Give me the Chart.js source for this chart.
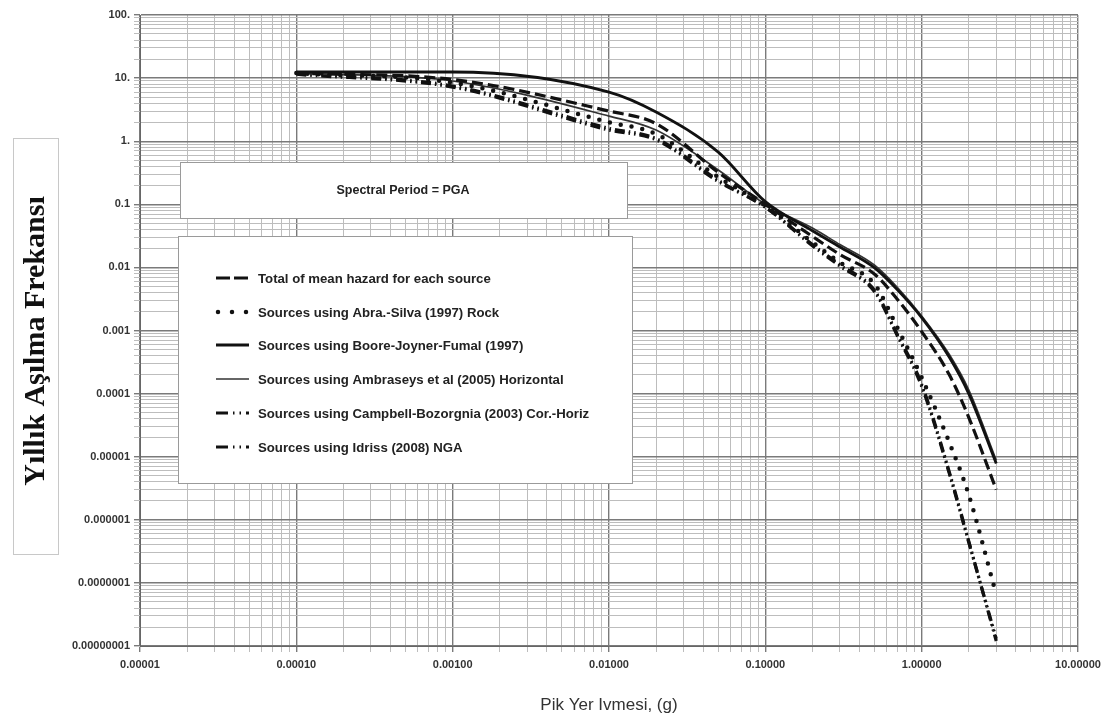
<!DOCTYPE html>
<html>
<head>
<meta charset="utf-8">
<script src="https://cdn.jsdelivr.net/npm/chart.js@4/dist/chart.umd.min.js"></script>
<style>
html,body{margin:0;padding:0;background:#fff;}
#wrap{width:1119px;height:720px;position:relative;}
</style>
</head>
<body>
<div id="wrap"><canvas id="c" width="1119" height="720"></canvas></div>
<script>
// ---- data ----
const pga = [0.0001, 0.001, 0.01, 0.02, 0.05, 0.1, 0.2, 0.3, 0.5, 0.7, 1, 1.5, 2, 3];
const totalMean   = [12, 9.5, 3.0, 1.9, 0.32, 0.1, 0.031, 0.016, 0.0078, 0.0031, 9.6e-4, 2.0e-4, 4.2e-5, 3.0e-6];
const abraSilva   = [12, 8.5, 2.0, 1.3, 0.27, 0.095, 0.025, 0.012, 0.0054, 0.0011, 1.8e-4, 1.7e-5, 2.5e-6, 6.5e-8];
const booreJF     = [12.5, 12.5, 6.0, 2.9, 0.67, 0.11, 0.038, 0.021, 0.0098, 0.0044, 0.0016, 3.8e-4, 1.0e-4, 7.8e-6];
const ambraseys   = [12, 9.0, 2.5, 1.5, 0.35, 0.1, 0.042, 0.023, 0.0108, 0.0048, 0.0017, 4.2e-4, 1.15e-4, 8.8e-6];
const campbellBoz = [12, 7.5, 1.6, 1.1, 0.24, 0.09, 0.023, 0.011, 0.0043, 8.6e-4, 1.4e-4, 5.8e-6, 4.6e-7, 1.2e-8];
const idriss      = [11.5, 7.2, 1.5, 1.05, 0.23, 0.09, 0.022, 0.0105, 0.0041, 8.2e-4, 1.3e-4, 5.5e-6, 4.4e-7, 1.3e-8];

const seriesLabels = [
  "Total of mean hazard for each source",
  "Sources using Abra.-Silva (1997) Rock",
  "Sources using Boore-Joyner-Fumal (1997)",
  "Sources using Ambraseys et al (2005) Horizontal",
  "Sources using Campbell-Bozorgnia (2003) Cor.-Horiz",
  "Sources using Idriss (2008) NGA"
];
const xTickLabels = ["0.00001","0.00010","0.00100","0.01000","0.10000","1.00000","10.00000"];
const yTickLabels = ["0.00000001","0.0000001","0.000001","0.00001","0.0001","0.001","0.01","0.1","1.","10.","100."];
const xExpMin = -5, xExpMax = 1;
const yExpMin = -8, yExpMax = 2;
const yTitle = "Yıllık Aşılma Frekansı";
const xTitle = "Pik Yer Ivmesi, (g)";
const boxTitle = "Spectral Period = PGA";

// ---- helpers ----
function pts(ys){ return pga.map((x,i)=>({x:x, y:ys[i]})); }
function logTicks(e0,e1){
  const t=[];
  for(let e=e0;e<e1;e++){ for(let s=1;s<10;s++){ t.push({value:Number(s+"e"+e)}); } }
  t.push({value:Number("1e"+e1)});
  return t;
}
function expOf(v){ const l=Math.log10(v); const r=Math.round(l); return Math.abs(l-r)<1e-9 ? r : null; }

const ink = "#111";
const datasets = [
  {label:seriesLabels[0], data:pts(totalMean), borderColor:ink, borderWidth:3.2, borderDash:[11,5], borderCapStyle:'butt'},
  {label:seriesLabels[1], data:pts(abraSilva), borderColor:ink, borderWidth:4.5, borderDash:[0,11], borderCapStyle:'round'},
  {label:seriesLabels[2], data:pts(booreJF), borderColor:ink, borderWidth:2.8, borderDash:[]},
  {label:seriesLabels[3], data:pts(ambraseys), borderColor:"#333", borderWidth:1.7, borderDash:[]},
  {label:seriesLabels[4], data:pts(campbellBoz), borderColor:ink, borderWidth:3.2, borderDash:[10,4,1.5,4,1.5,4], borderCapStyle:'butt'},
  {label:seriesLabels[5], data:pts(idriss), borderColor:ink, borderWidth:3.2, borderDash:[10,4,1.5,4,1.5,4], borderCapStyle:'butt'}
].map(d=>Object.assign({pointRadius:0, cubicInterpolationMode:'monotone', fill:false}, d));

const legendDash = [[14,4],[0,14],[],[],[12,5,1.5,5,1.5,5],[12,5,1.5,5,1.5,5]];

const decor = {
  id:'decor',
  beforeDatasetsDraw(chart){
    const c = chart.ctx;
    c.save();
    // spectral period box
    c.fillStyle='#fff'; c.strokeStyle='#9a9a9a'; c.lineWidth=1;
    c.fillRect(180,162,447,56); c.strokeRect(180.5,162.5,447,56);
    c.fillStyle='#222'; c.font='bold 12.5px "Liberation Sans", Arial, sans-serif';
    c.textAlign='center'; c.textBaseline='middle';
    c.fillText(boxTitle, 403, 191);
    // legend box
    c.fillStyle='#fff'; c.fillRect(178,236,454,247);
    c.strokeStyle='#9a9a9a'; c.strokeRect(178.5,236.5,454,247);
    const rows=[278,312,345,379,413,447];
    c.textAlign='left';
    c.font='bold 13.2px "Liberation Sans", Arial, sans-serif';
    chart.data.datasets.forEach((ds,i)=>{
      const y=rows[i];
      c.save();
      c.strokeStyle=ds.borderColor; c.lineWidth=ds.borderWidth;
      c.lineCap=ds.borderCapStyle||'butt';
      c.setLineDash(legendDash[i]);
      c.beginPath();
      if(i===1){ c.moveTo(218,y); c.lineTo(248,y); } else { c.moveTo(216,y); c.lineTo(249,y); }
      c.stroke();
      c.restore();
      c.fillStyle='#222';
      c.fillText(ds.label, 258, y+1);
    });
    // y title box
    c.strokeStyle='#c8c8c8'; c.lineWidth=1; c.setLineDash([]);
    c.strokeRect(13.5,138.5,45,416);
    c.translate(36,341); c.rotate(-Math.PI/2);
    c.fillStyle='#111'; c.font='bold 30px "Liberation Serif", "Times New Roman", serif';
    c.textAlign='center'; c.textBaseline='middle';
    c.fillText(yTitle,0,0);
    c.restore();
  }
};

new Chart(document.getElementById('c'), {
  type:'line',
  data:{datasets},
  options:{
    responsive:false, animation:false,
    layout:{padding:{left:0, top:15, right:41, bottom:0}},
    plugins:{legend:{display:false}, tooltip:{enabled:false}},
    scales:{
      x:{
        type:'logarithmic', min:1e-5, max:10,
        afterBuildTicks:(s)=>{ s.ticks = logTicks(xExpMin,xExpMax); },
        afterFit:(s)=>{ s.height = 74; },
        ticks:{autoSkip:false, maxRotation:0, color:'#333', padding:6,
          font:{family:'"Liberation Sans", Arial, sans-serif', size:11, weight:'bold'},
          callback:(v)=>{ const e=expOf(v); return e===null ? '' : xTickLabels[e-xExpMin]; }},
        grid:{color:(ctx)=>expOf(ctx.tick.value)!==null ? '#7a7a7a' : '#bdbdbd',
              lineWidth:(ctx)=>expOf(ctx.tick.value)!==null ? 1.4 : 1, tickLength:6},
        border:{color:'#666'},
        title:{display:true, text:xTitle, color:'#333', padding:{top:8},
          font:{family:'"Liberation Sans", Arial, sans-serif', size:17}}
      },
      y:{
        type:'logarithmic', min:1e-8, max:100,
        afterBuildTicks:(s)=>{ s.ticks = logTicks(yExpMin,yExpMax); },
        afterFit:(s)=>{ s.width = 140; },
        ticks:{autoSkip:false, color:'#333', padding:4,
          font:{family:'"Liberation Sans", Arial, sans-serif', size:11, weight:'bold'},
          callback:(v)=>{ const e=expOf(v); return e===null ? '' : yTickLabels[e-yExpMin]; }},
        grid:{color:(ctx)=>expOf(ctx.tick.value)!==null ? '#7a7a7a' : '#bdbdbd',
              lineWidth:(ctx)=>expOf(ctx.tick.value)!==null ? 1.4 : 1, tickLength:6},
        border:{color:'#666'}
      }
    }
  },
  plugins:[decor]
});
</script>
</body>
</html>
